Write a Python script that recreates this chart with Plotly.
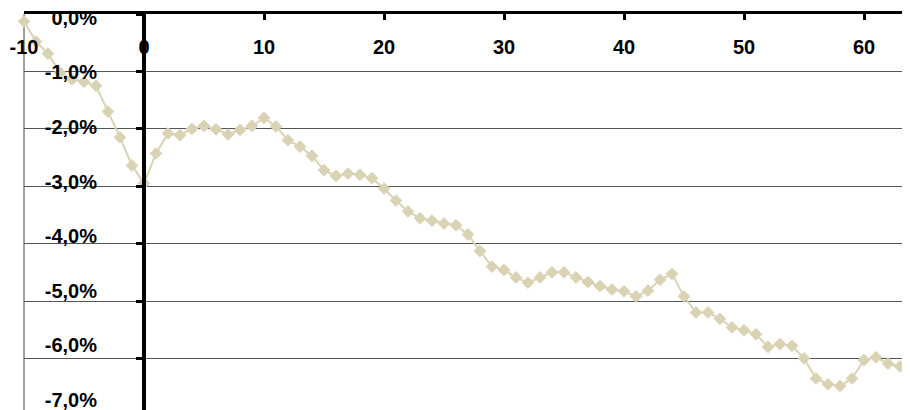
import plotly.graph_objects as go

# Data (percent)
days = list(range(-10, 65))
values = [
    -0.13, -0.48, -0.69, -1.02, -1.14, -1.18, -1.25, -1.70, -2.15, -2.64,
    -2.95, -2.43, -2.08, -2.11, -2.00, -1.95, -2.01, -2.10, -2.02, -1.95,
    -1.81, -1.96, -2.20, -2.31, -2.47, -2.72, -2.82, -2.78, -2.80, -2.86,
    -3.04, -3.25, -3.44, -3.56, -3.60, -3.65, -3.68, -3.84, -4.13, -4.40,
    -4.46, -4.59, -4.68, -4.59, -4.50, -4.50, -4.59, -4.67, -4.74, -4.80,
    -4.83, -4.92, -4.82, -4.63, -4.53, -4.92, -5.20, -5.20, -5.31, -5.46,
    -5.51, -5.58, -5.80, -5.75, -5.78, -6.00, -6.35, -6.45, -6.48, -6.35,
    -6.03, -5.98, -6.09, -6.14, -6.25,
]

x_tickvals = [-10, 0, 10, 20, 30, 40, 50, 60]
x_ticktext = ["-10", "0", "10", "20", "30", "40", "50", "60"]
y_tickvals = [0, -1, -2, -3, -4, -5, -6, -7]
y_ticktext = ["0,0%", "-1,0%", "-2,0%", "-3,0%", "-4,0%", "-5,0%", "-6,0%", "-7,0%"]

OFF = 8  # default page body margin
W, H = 910 - OFF, 410 - OFF
ML, MT = 24 - OFF, 14 - OFF
x_range = [-10, -10 + (W - ML) / 12.0]
y_range = [-(H - MT) / 57.4, 0]
# label axis (slightly different scale, as in the reference)
lab0 = 17.8 - OFF
y2_range = [-(H - lab0) / 54.6, (lab0 - MT) / 54.6]

x0_pos = (0 - x_range[0]) / (x_range[1] - x_range[0])

bold = dict(family="Liberation Sans, Arial, sans-serif", size=20, color="black", weight="bold")

fig = go.Figure()
fig.add_trace(go.Scatter(
    x=days, y=values, mode="lines+markers",
    line=dict(color="#D9D3B4", width=2),
    marker=dict(symbol="diamond", size=9, color="#D9D3B4",
                line=dict(color="#D9D3B4", width=1)),
    cliponaxis=False, showlegend=False, hoverinfo="skip",
))
fig.add_trace(go.Scatter(
    x=days, y=values, yaxis="y2", mode="lines", opacity=0,
    showlegend=False, hoverinfo="skip",
))

fig.update_layout(
    width=W, height=H,
    margin=dict(l=ML, r=0, t=MT, b=0, pad=0, autoexpand=False),
    paper_bgcolor="white", plot_bgcolor="white",
    font=bold,
    xaxis=dict(
        range=x_range, side="top", automargin=False,
        tickvals=x_tickvals, ticktext=x_ticktext,
        ticks="inside", ticklen=6, tickwidth=3, tickcolor="black",
        ticklabelposition="inside", ticklabelstandoff=21,
        ticklabeloverflow="allow",
        tickfont=bold,
        showline=True, linecolor="black", linewidth=3,
        showgrid=False, zeroline=False,
    ),
    yaxis=dict(
        range=y_range, anchor="free", position=x0_pos, automargin=False,
        tickvals=y_tickvals, showticklabels=False,
        ticks="outside", ticklen=6, tickwidth=3, tickcolor="black",
        showline=True, linecolor="black", linewidth=4,
        showgrid=True, gridcolor="#555555", gridwidth=1.2,
        zeroline=False,
    ),
    yaxis2=dict(
        range=y2_range, overlaying="y", anchor="free", side="left",
        position=(97 - 24) / (W - ML), automargin=False,
        tickvals=y_tickvals, ticktext=y_ticktext,
        ticklabeloverflow="allow",
        ticks="", showline=False, showgrid=False, zeroline=False,
        tickfont=bold,
    ),
    shapes=[dict(type="line", xref="paper", yref="paper", x0=0, x1=0, y0=0, y1=1,
                 line=dict(color="#A0A0A0", width=2), layer="below")],
)

fig.write_html("out.html")
